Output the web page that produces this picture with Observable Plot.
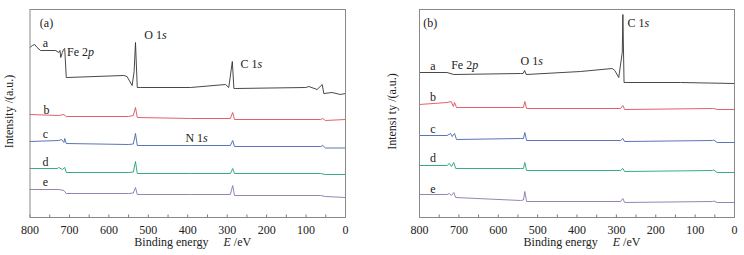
<!DOCTYPE html>
<html><head><meta charset="utf-8">
<script src="https://cdn.jsdelivr.net/npm/d3@7"></script>
<script src="https://cdn.jsdelivr.net/npm/@observablehq/plot@0.6"></script>
<style>
body{margin:0;background:#fff}
#wrap{position:relative;width:744px;height:255px;overflow:hidden;background:#fff}
.p{position:absolute;top:0}
</style>
</head><body>
<div id="wrap"><div class="p" id="pa" style="left:0px"></div><div class="p" id="pb" style="left:372px"></div></div>
<script>
// ---- data: [binding energy (eV), intensity (a.u.)] ----
const xTicks = [800, 700, 600, 500, 400, 300, 200, 100, 0];
const xMinorTicks = [750, 650, 550, 450, 350, 250, 150, 50];
const seriesNames = ["a", "b", "c", "d", "e"];
const seriesColors = ["#333333", "#dc4f5c", "#4566ad", "#22a078", "#8c76aa"];

// panel (a)
const aTraceA = [[800,170],[794,172],[788,173],[782,170],[773,167],[735,167],[727,165],[724,167],[722,160],[718,165],[715,168],[712,169],[708,140],[706,140],[562,142],[554,141],[541,132],[536,146],[532.5,175],[528,130],[520,130],[393,130],[304,133],[296,130],[287,156],[283,129],[279,129],[101,130],[93,131],[72,128],[59,133],[55,124],[34,125],[13,123],[0,124]];
const aTraceB = [[800,103],[727,102],[714,103],[708,101],[550,101],[538,102],[532.5,110],[528,100],[393,99],[292,99],[286,105],[281.5,98],[63,98],[57.5,99],[51,97],[0,98]];
const aTraceC = [[800,76],[727,77],[720,78],[714,75],[712,79],[708,74],[550,73],[538,73.5],[532.5,84],[528,72],[393,72],[292,72],[286,77],[281.5,71],[63,71],[57.5,72],[51,69.5],[0,69.5]];
const aTraceD = [[800,49],[731,49],[727,50],[718,48],[712,50],[708,45],[550,45],[538,45.5],[532.5,56],[528,44],[393,44],[292,44],[286,49],[281.5,44],[63,44],[51,43],[0,43]];
const aTraceE = [[800,28],[727,28],[714,27],[708,24],[550,24],[538,24.5],[532.5,30],[528,23],[393,23],[292,23],[286,32],[281.5,22],[63,22],[51,21],[0,20]];

// panel (b)
const bTraceA = [[800,145],[730,145],[713,143],[543.5,144],[537,144],[533,147],[529,143],[391,146],[310.5,149],[304,147],[294,140],[285,165],[283.5,203],[280.5,135],[278,135],[137,135],[0,134]];
const bTraceB = [[800,113],[730,115],[719.5,116],[714,111],[711,115],[706,110],[543.5,110],[536,110],[532.5,116],[528,109],[289.5,109],[283.5,112],[279,108],[56.5,109],[52.5,109],[44,108],[0,108]];
const bTraceC = [[800,82],[730,82],[721,84],[717,81],[711,84],[706,78],[543.5,79],[536,79],[532.5,85],[528,77],[289.5,77],[283.5,79],[279,76],[56.5,77],[52.5,77.5],[44,75],[0,75]];
const bTraceD = [[800,52],[730,52],[724,54],[719,51],[713,55],[708,49],[543.5,49],[536,49],[532.5,55],[528,47],[289.5,47],[283.5,49],[279,46],[56.5,47],[52.5,47.5],[44,45],[0,45]];
const bTraceE = [[800,23],[730,23],[724,24],[719,22],[713,25],[708,20],[543.5,17],[536,17.5],[532.5,26],[528,16],[289.5,16],[283.5,19],[279,15],[56.5,16],[52.5,16.5],[44,15],[0,15]];

// annotations
const aPanelTag = "(a)", bPanelTag = "(b)";
const aSeriesLabelPos = [[761,174],[758,107],[761,83],[761,55],[761,35]];
const bSeriesLabelPos = [[766,151],[766,120],[766,88],[766,59],[766,28]];
const aPeakLabels = [{t:"Fe 2p",E:706,I:165},{t:"O 1s",E:510,I:182},{t:"C 1s",E:266,I:153},{t:"N 1s",E:406,I:79}];
const bPeakLabels = [{t:"Fe 2p",E:719.5,I:152},{t:"O 1s",E:543.5,I:156},{t:"C 1s",E:272,I:194}];
const xLabel = "Binding energy E /eV";
const aYLabel = "Intensity /(a.u.)";
const bYLabel = "Intensi ty /(a.u.)";

const richParts = {
  "Fe 2p": [["Fe 2",false],["p",true]],
  "O 1s": [["O 1",false],["s",true]],
  "C 1s": [["C 1",false],["s",true]],
  "N 1s": [["N 1",false],["s",true]],
  "Binding energy E /eV": [["Binding energy",false],["E",true,15],[" /eV",false]]
};

function rich(svg) {
  svg.querySelectorAll("text").forEach(t => {
    const parts = richParts[t.textContent];
    if (!parts) return;
    t.textContent = "";
    for (const [s, it, dx] of parts) {
      const ts = document.createElementNS("http://www.w3.org/2000/svg", "tspan");
      ts.textContent = s;
      if (it) ts.setAttribute("font-style", "italic");
      if (dx) ts.setAttribute("dx", dx);
      t.appendChild(ts);
    }
  });
  return svg;
}

function panel(traces, tag, tagPos, seriesPos, peaks, yLabel, mL, mR, yDx) {
  const letters = seriesNames.map((n, i) => ({t: n, E: seriesPos[i][0], I: seriesPos[i][1]}));
  return Plot.plot({
    width: 372, height: 255,
    marginLeft: mL, marginRight: mR, marginTop: 9, marginBottom: 38,
    style: {fontFamily: "'Liberation Serif', 'Times New Roman', serif", fontSize: "12px", color: "#222", background: "#fff"},
    x: {domain: [800, 0], axis: null},
    y: {domain: [0, 208], axis: null},
    marks: [
      Plot.ruleX([...xTicks, ...xMinorTicks], {x: d => d, y1: 0, y2: 2.5, stroke: "#555", strokeWidth: 0.8}),
      ...traces.map((t, i) => Plot.line(t, {x: d => d[0], y: d => d[1], stroke: seriesColors[i], strokeWidth: 0.9})),
      Plot.frame({stroke: "#8a8a8a", strokeWidth: 1}),
      Plot.text([tag], {x: tagPos[0], y: tagPos[1], textAnchor: "start", fontSize: 12, fill: "#222"}),
      Plot.text(letters, {x: "E", y: "I", text: "t", textAnchor: "middle", fontSize: 12, fill: "#222"}),
      Plot.text(peaks, {x: "E", y: "I", text: "t", textAnchor: "start", fontSize: 12, fill: "#222"}),
      Plot.axisX({ticks: xTicks, tickSize: 0, tickPadding: 7.5, tickFormat: d => String(d), fontSize: 12, fill: "#222", label: null}),
      Plot.text([xLabel], {frameAnchor: "bottom", textAnchor: "middle", dx: 5, dy: 28.7, fontSize: 12, fill: "#222"}),
      Plot.text([yLabel], {frameAnchor: "left", textAnchor: "middle", dx: yDx, dy: -2, rotate: -90, fontSize: 12, fill: "#222"})
    ]
  });
}

const pa = panel([aTraceA, aTraceB, aTraceC, aTraceD, aTraceE], aPanelTag, [775, 194], aSeriesLabelPos, aPeakLabels, aYLabel, 29.5, 27, -21);
const pb = panel([bTraceA, bTraceB, bTraceC, bTraceD, bTraceE], bPanelTag, [790.5, 194], bSeriesLabelPos, bPeakLabels, bYLabel, 47, 10, -27);
document.getElementById("pa").appendChild(rich(pa));
document.getElementById("pb").appendChild(rich(pb));
</script>
</body></html>
